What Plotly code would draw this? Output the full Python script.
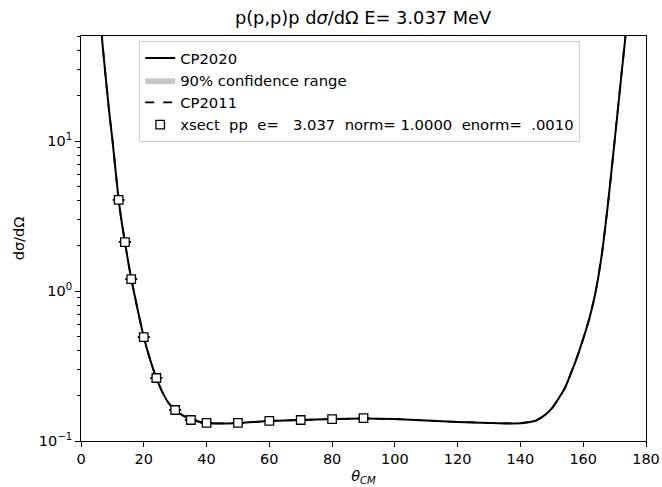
import plotly.graph_objects as go

# CP2020 curve
curve_theta = [6.5, 7, 8, 9, 10, 11, 12, 13, 14, 15, 16, 18, 20, 22, 24, 26, 28, 30, 32, 35,
               40, 45, 50, 55, 60, 70, 80, 90, 100, 110, 120, 130, 138, 142, 145, 148, 150,
               152, 154, 156, 158, 160, 162, 164, 166, 168, 170, 172, 174]
curve_y = [54, 41, 25, 15.5, 10.2, 6.4, 4.05, 2.85, 2.12, 1.58, 1.21, 0.76, 0.493, 0.35, 0.263,
           0.21, 0.178, 0.161, 0.150, 0.139, 0.132, 0.131, 0.132, 0.134, 0.136, 0.138, 0.140,
           0.141, 0.140, 0.137, 0.134, 0.132, 0.131, 0.133, 0.137, 0.150, 0.165, 0.19, 0.222,
           0.28, 0.36, 0.48, 0.66, 1.0, 1.8, 4.0, 10.0, 25.5, 64]
# CP2011 curve (indistinguishable from CP2020 at this scale)
cp2011_y = list(curve_y)
# 90% confidence band (too narrow to see)
band_lo = list(curve_y)
band_hi = list(curve_y)

# measured cross sections
data_theta = [12, 14, 16, 20, 24, 30, 35, 40, 50, 60, 70, 80, 90]
data_y = [4.05, 2.12, 1.20, 0.493, 0.263, 0.161, 0.138, 0.132, 0.132, 0.136, 0.138, 0.140, 0.142]
data_err = [0.02, 0.011, 0.006, 0.0025, 0.0013, 0.0008, 0.0007, 0.0007, 0.0007, 0.0007, 0.0007, 0.0007, 0.0007]

x_ticks = [0, 20, 40, 60, 80, 100, 120, 140, 160, 180]
y_ticks = [0.1, 1, 10]
y_ticktext = ["10<sup>\u22121</sup>", "10<sup>0</sup>", "10<sup>1</sup>"]
y_minor = [0.2, 0.3, 0.4, 0.5, 0.6, 0.7, 0.8, 0.9, 2, 3, 4, 5, 6, 7, 8, 9, 20, 30, 40, 50]

FONT = "DejaVu Sans"
FS = 14.5
LFS = 14.8
sp = "\u00a0"

fig = go.Figure()
fig.add_trace(go.Scatter(x=curve_theta, y=curve_y, mode="lines", name="CP2020",
                         line=dict(color="black", width=2, shape="spline", smoothing=0.6)))
fig.add_trace(go.Scatter(x=curve_theta, y=band_hi, mode="lines", showlegend=False,
                         line=dict(width=0, color="#c8c8c8", shape="spline"), hoverinfo="skip"))
fig.add_trace(go.Scatter(x=curve_theta, y=band_lo, mode="lines", name="90% confidence range",
                         fill="tonexty", fillcolor="#c8c8c8",
                         line=dict(width=0, color="#c8c8c8", shape="spline")))
fig.add_trace(go.Scatter(x=curve_theta, y=cp2011_y, mode="lines", name="CP2011",
                         line=dict(color="black", width=1.8, dash="dash", shape="spline", smoothing=0.6)))
fig.add_trace(go.Scatter(
    x=data_theta, y=data_y, mode="markers",
    name=f"xsect{sp}{sp}pp{sp}{sp}e={sp}{sp}{sp}3.037{sp}{sp}norm={sp}1.0000{sp}{sp}enorm={sp}{sp}.0010",
    marker=dict(symbol="square", size=8.5, color="white", line=dict(color="black", width=1.3)),
    error_y=dict(type="data", array=data_err, visible=True, color="black", thickness=1.3, width=6)))

fig.update_layout(
    width=662, height=487,
    margin=dict(l=81, r=16, t=36, b=46),
    paper_bgcolor="white", plot_bgcolor="white",
    font=dict(family=FONT, size=FS, color="black"),
    title=dict(text="p(p,p)p d<i>σ</i>/dΩ E= 3.037 MeV", x=363 / 662, xanchor="center",
               y=1 - 18 / 487, yanchor="middle", yref="container",
               font=dict(family=FONT, size=17.8, color="black")),
    showlegend=True,
    legend=dict(x=0.103, y=0.988, xanchor="left", yanchor="top", traceorder="normal",
                bgcolor="rgba(255,255,255,0.8)", bordercolor="#cccccc", borderwidth=1,
                font=dict(family=FONT, size=LFS), itemwidth=30, tracegroupgap=0),
)
fig.update_xaxes(range=[0, 180], tickvals=x_ticks, ticks="outside", ticklen=5, tickwidth=1,
                 tickcolor="black", showline=True, linecolor="black", linewidth=1, mirror=True,
                 showgrid=False, zeroline=False, automargin=False,
                 title=dict(text="<i>θ</i><sub><i>CM</i></sub>", standoff=4,
                            font=dict(family=FONT, size=FS)))
fig.update_yaxes(type="log", range=[-1, 1.7], tickvals=y_ticks, ticktext=y_ticktext,
                 ticks="outside", ticklen=5, tickwidth=1, tickcolor="black",
                 showline=True, linecolor="black", linewidth=1, mirror=True,
                 showgrid=False, zeroline=False, automargin=False,
                 minor=dict(tickmode="array", tickvals=y_minor, ticks="outside", ticklen=3,
                            tickwidth=0.8, tickcolor="black", showgrid=False),
                 title=dict(text="dσ/dΩ", standoff=10, font=dict(family=FONT, size=FS)))

fig.write_html("out.html")
